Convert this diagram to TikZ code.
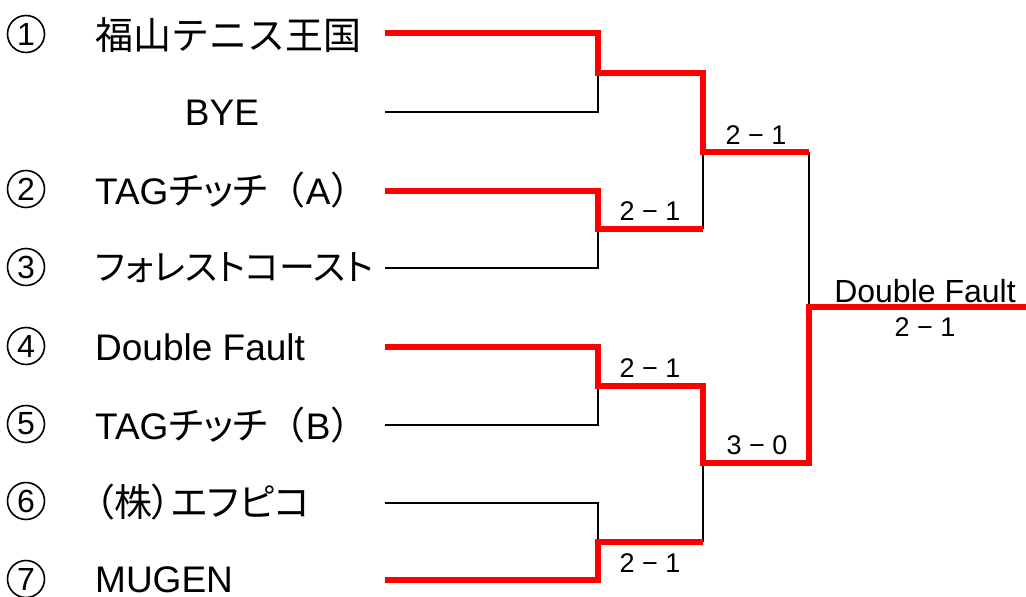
\documentclass[tikz,border=0pt]{standalone}
\usepackage{fontspec}
\setmainfont{Liberation Sans}
\newfontfamily\cjk[RawFeature=+palt]{Noto Sans CJK JP}
\newfontfamily\cjkfull{Noto Sans CJK JP}
\begin{document}
\begin{tikzpicture}[x=1pt,y=-1pt,
  lose/.style={draw=black,line width=2.5pt},
  win/.style={draw=red,line width=6pt},
  num/.style={circle,draw=black,line width=1.6pt,minimum size=37pt,inner sep=0pt,
    font=\fontsize{32}{34}\selectfont},
  team/.style={anchor=west,font=\fontsize{37}{40}\selectfont,inner sep=0pt},
  score/.style={anchor=center,font=\fontsize{27}{30}\selectfont,inner sep=0pt},
  endlab/.style={anchor=center,font=\fontsize{32}{34}\selectfont,inner sep=0pt}]
\useasboundingbox (0,0) rectangle (1026,597);
\newcommand{\J}[1]{{\cjk\fontsize{38}{40}\selectfont #1}}
\newcommand{\JF}[1]{{\cjkfull\fontsize{38}{40}\selectfont #1}}
% numbers
\node[num] (n1) at (26,34) {1};
\node[num] (n2) at (26,189) {2};
\node[num] (n3) at (26,267) {3};
\node[num] (n4) at (26,346) {4};
\node[num] (n5) at (26,424) {5};
\node[num] (n6) at (26,501) {6};
\node[num] (n7) at (26,579) {7};
% team names
\node[team] (t1) at (95,35) {\JF{福山テニス王国}};
\node[team,anchor=center] (tb) at (222,113) {BYE};
\node[team] (t2) at (95,190) {TAG\J{チッチ}\JF{（}A\JF{）}};
\node[team] (t3) at (95,268) {{\cjk\fontsize{36}{40}\selectfont フォレストコースト}};
\node[team] (t4) at (95,347) {Double Fault};
\node[team] (t5) at (95,425) {TAG\J{チッチ}\JF{（}B\JF{）}};
\node[team] (t6) at (95,502) {\J{（株）エフピコ}};
\node[team] (t7) at (95,580) {MUGEN};
% line ends
\coordinate (a1) at (385,33);
\coordinate (ab) at (385,112);
\coordinate (a2) at (385,191);
\coordinate (a3) at (385,268);
\coordinate (a4) at (385,347);
\coordinate (a5) at (385,425);
\coordinate (a6) at (385,503);
\coordinate (a7) at (385,580);
% round 1 junctions
\coordinate (m1) at (598,73);
\coordinate (m2) at (598,229);
\coordinate (m3) at (598,386);
\coordinate (m4) at (598,542);
% round 2 junctions
\coordinate (s1) at (703,152);
\coordinate (s2) at (703,463);
% final
\coordinate (f) at (809,307);
\coordinate (fe) at (1026,307);
% losing lines
\draw[lose] (ab) -| (m1);
\draw[lose] (a3) -| (m2);
\draw[lose] (a5) -| (m3);
\draw[lose] (a6) -| (m4);
\draw[lose] (s1) -- (s1 |- m2);
\draw[lose] (s2) -- (s2 |- m4);
\draw[lose] (809,152) -- (f);
% winning lines
\draw[win] (a1) -| (m1) -- (m1 -| s1) -- (s1) -- (s1 -| f);
\draw[win] (a2) -| (m2) -- (m2 -| s1);
\draw[win] (a4) -| (m3) -- (m3 -| s2) -- (s2) -- (s2 -| f) -- (f) -- (fe);
\draw[win] (a7) -| (m4) -- (m4 -| s2);
% scores
\node[score] (r2) at (650,211) {2 − 1};
\node[score] (r3) at (650,368) {2 − 1};
\node[score] (r4) at (650,563) {2 − 1};
\node[score] (q1) at (756,135) {2 − 1};
\node[score] (q2) at (757,445) {3 − 0};
\node[endlab] (champ) at (925,291) {Double Fault};
\node[score] (fs) at (925,327) {2 − 1};
\end{tikzpicture}
\end{document}
